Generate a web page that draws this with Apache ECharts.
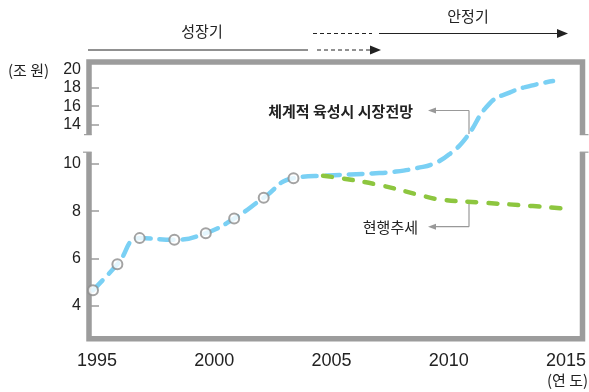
<!DOCTYPE html>
<html>
<head>
<meta charset="utf-8">
<script src="https://cdn.jsdelivr.net/npm/echarts@6/dist/echarts.min.js"></script>
<style>
  html, body { margin: 0; background: #fff; }
  #main { width: 589px; height: 392px; }
</style>
</head>
<body>
<div id="main"></div>
<script>
// 실적 (marker points)
const histYears  = [1994.83, 1995.87, 1996.82, 1998.30, 1999.64, 2000.85, 2002.11, 2003.38];
const histValues = [4.65, 5.75, 6.86, 6.79, 7.07, 7.69, 8.57, 9.40];
// 체계적 육성시 시장전망
const planYears  = [2004.85, 2006.75, 2007.68, 2008.66, 2009.42, 2010.10, 2010.73, 2011.74, 2012.59, 2013.52, 2014.45];
const planValues = [9.51, 9.60, 9.67, 9.83, 10.04, 10.47, 12.43, 16.29, 17.49, 18.25, 18.75];
// 현행추세
const trendYears  = [2004.64, 2005.40, 2007.09, 2008.74, 2009.59, 2011.32, 2013.01, 2014.79];
const trendValues = [9.50, 9.40, 9.10, 8.69, 8.50, 8.37, 8.26, 8.12];

const xTicks = [1995, 2000, 2005, 2010, 2015];
const yTicks = [4, 6, 8, 10, 14, 16, 18, 20];
const yTickMarks = [4, 6, 8, 10, 14, 16, 18];

// broken y axis: lower part as is, upper part (14~20) squeezed
const BREAK_LOW = 10.5, BREAK_HIGH = 12.9;
const UPPER_BASE = 11.67, UPPER_SCALE = 0.388;
function toAxis(v) {
  const top = UPPER_BASE + (BREAK_HIGH - 14) * UPPER_SCALE;
  if (v <= BREAK_LOW) return v;
  if (v >= BREAK_HIGH) return UPPER_BASE + (v - 14) * UPPER_SCALE;
  return BREAK_LOW + (v - BREAK_LOW) / (BREAK_HIGH - BREAK_LOW) * (top - BREAK_LOW);
}
function pairs(xs, ys) {
  return xs.map((x, i) => [x, toAxis(ys[i])]);
}

const KR = '"Noto Sans CJK KR", sans-serif';
const NUM = '"Liberation Sans Narrow", "Liberation Sans", Arial, sans-serif';

// frame (grid) edges
const L = 89, R = 582.5, T = 62, B = 338.7;
const W = 589, H = 392;

var myChart = echarts.init(document.getElementById('main'));

var option = {
  animation: false,
  grid: { left: L, right: W - R, top: T, bottom: H - B },
  xAxis: {
    type: 'value',
    min: 1994.66,
    max: 2015.53,
    axisLine: { show: false },
    axisTick: { show: false },
    splitLine: { show: false },
    axisLabel: {
      customValues: xTicks,
      formatter: v => String(v),
      margin: 13,
      color: '#222',
      fontSize: 18,
      fontFamily: NUM
    }
  },
  yAxis: {
    type: 'value',
    min: 2.6,
    max: 14.32,
    axisLine: { show: false },
    splitLine: { show: false },
    axisTick: {
      show: true,
      inside: true,
      length: 10,
      customValues: yTickMarks.map(toAxis),
      lineStyle: { color: '#9c9c9c', width: 1.5 }
    },
    axisLabel: {
      customValues: yTicks.map(toAxis),
      formatter: function (val) {
        let t = yTicks.find(t => Math.abs(toAxis(t) - val) < 1e-6);
        return t === undefined ? '' : String(t);
      },
      margin: 8,
      color: '#222',
      fontSize: 16,
      fontFamily: NUM
    }
  },
  series: [
    {
      name: '체계적 육성시 시장전망',
      type: 'line',
      data: pairs(histYears.concat(planYears), histValues.concat(planValues)),
      showSymbol: false,
      smooth: 0.5,
      lineStyle: { color: '#7ad0f4', width: 4.5, type: [14, 9], cap: 'round' },
      z: 2
    },
    {
      name: '현행추세',
      type: 'line',
      data: pairs(trendYears, trendValues),
      showSymbol: false,
      smooth: 0.4,
      lineStyle: { color: '#8dc63f', width: 4.5, type: [9, 12], cap: 'round' },
      z: 3
    },
    {
      type: 'scatter',
      data: pairs(histYears, histValues),
      symbol: 'circle',
      symbolSize: 10,
      itemStyle: { color: '#fff', borderColor: '#8c8c8c', borderWidth: 2 },
      z: 4
    }
  ]
};

myChart.setOption(option);

// frame with a break, arrows and notes
const gapTop = myChart.convertToPixel({ yAxisIndex: 0 }, toAxis(BREAK_HIGH));
const gapBottom = myChart.convertToPixel({ yAxisIndex: 0 }, toAxis(BREAK_LOW));
const frameStyle = { stroke: '#9c9c9c', lineWidth: 5.5, fill: null, lineJoin: 'miter' };
const thin = { stroke: '#9c9c9c', lineWidth: 1.2 };
const ink = { stroke: '#222', lineWidth: 1 };

function line(x1, y1, x2, y2, style) {
  return { type: 'line', silent: true, shape: { x1, y1, x2, y2 }, style };
}
function arrow(points, color) {
  return { type: 'polygon', silent: true, shape: { points }, style: { fill: color } };
}
function text(str, x, y, font, align) {
  return {
    type: 'text', silent: true,
    style: { text: str, x, y, font, fill: '#222', textAlign: align || 'center', textVerticalAlign: 'middle' }
  };
}

myChart.setOption({
  graphic: [
    { type: 'polyline', silent: true, shape: { points: [[L, gapTop], [L, T], [R, T], [R, gapTop]] }, style: frameStyle },
    { type: 'polyline', silent: true, shape: { points: [[L, gapBottom], [L, B], [R, B], [R, gapBottom]] }, style: frameStyle },
    line(L - 5, gapTop, L + 2.7, gapTop, thin),
    line(L - 6, gapBottom, L + 2.7, gapBottom, thin),
    line(R - 2.7, gapTop, R + 6, gapTop, thin),
    line(R - 2.7, gapBottom, R + 6, gapBottom, thin),

    // 성장기 / 안정기
    text('성장기', 202, 31, '15px ' + KR),
    text('안정기', 468, 16, '15px ' + KR),
    line(88, 50, 308, 50, ink),
    line(317, 50, 370, 50, Object.assign({ lineDash: [4, 3] }, ink)),
    arrow([[370, 45.5], [381, 50], [370, 54.5]], '#222'),
    line(313, 33.5, 372, 33.5, Object.assign({ lineDash: [4, 3] }, ink)),
    line(379, 33.5, 558, 33.5, ink),
    arrow([[557, 29], [568, 33.5], [557, 38]], '#222'),

    // units
    text('(조 원)', 8, 70, '15px ' + KR, 'left'),
    text('(연 도)', 588, 380, '15px ' + KR, 'right'),

    // notes with leader arrows
    text('체계적 육성시 시장전망', 413, 111, 'bold 15px ' + KR, 'right'),
    arrow([[428, 110.5], [436, 107.5], [436, 113.5]], '#999'),
    line(435, 110.5, 469, 110.5, { stroke: '#999', lineWidth: 1.2 }),
    line(469, 110.5, 469, 134, { stroke: '#999', lineWidth: 1.2 }),

    text('현행추세', 418, 227, '15px ' + KR, 'right'),
    arrow([[428, 226.7], [436, 223.7], [436, 229.7]], '#999'),
    line(435, 226.7, 469, 226.7, { stroke: '#999', lineWidth: 1.2 }),
    line(469, 226.7, 469, 203, { stroke: '#999', lineWidth: 1.2 })
  ]
});
</script>
</body>
</html>
